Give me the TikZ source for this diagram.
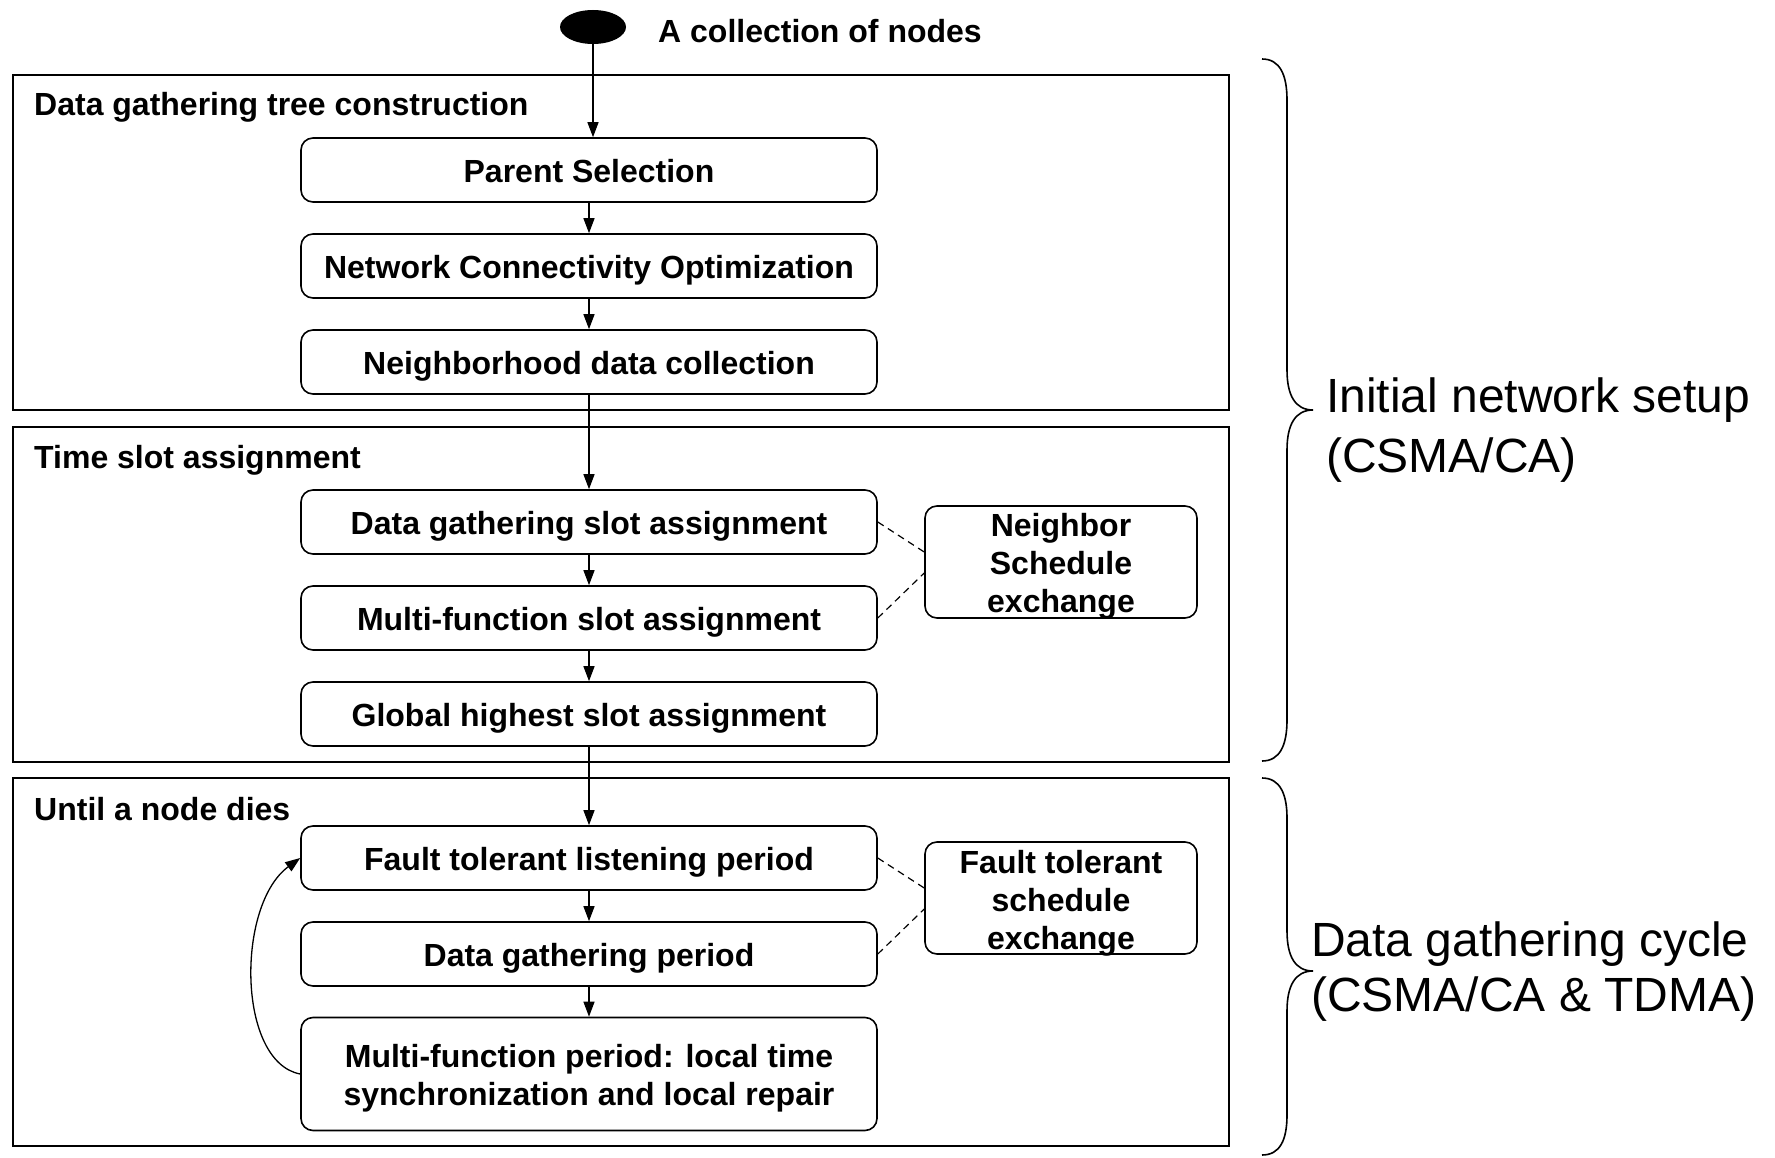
\documentclass[tikz,border=0pt]{standalone}
\usepackage{fontspec}
\setmainfont{Liberation Sans}
\usetikzlibrary{arrows.meta,shapes.geometric}

\newcommand\stagefont{\fontsize{32}{38}\selectfont\bfseries}
\newcommand\bracefont{\fontsize{48}{60}\selectfont}
\newcommand\bracefonttight{\fontsize{48}{55.5}\selectfont}
% lowers the lines of a multi-line box a little
\newcommand\firstline{\rule{0pt}{31.5pt}}

\begin{document}
\begin{tikzpicture}[x=1pt,y=-1pt,
  frame/.style={draw, line width=1.8pt, inner sep=0pt},
  box/.style={draw, rounded corners=12pt, line width=1.6pt, minimum width=576pt,
    minimum height=64pt, align=center, font=\stagefont, inner sep=0pt},
  stage/.style={box, text height=25.5pt, text depth=0pt},
  sidebox/.style={box, minimum width=272pt, minimum height=112pt, inner ysep=-5pt},
  heading/.style={anchor=base west, font=\stagefont, inner sep=0pt},
  flow/.style={line width=1.3pt, -{Triangle[length=15pt,width=11pt]}},
  link/.style={line width=1.2pt, dash pattern=on 7pt off 5pt},
  brace/.style={line width=1.6pt},
  bracetext/.style={anchor=west, align=left, inner sep=0pt},
]
\useasboundingbox (0,0) rectangle (1775,1158);

% start marker
\node[ellipse, fill=black, minimum width=66pt, minimum height=34pt, inner sep=0pt] (start) at (593,27) {};
\node[heading] (startlbl) at (658,43) {A collection of nodes};

% phase frames
\node[frame, minimum width=1216pt, minimum height=335pt] (tree) at (621,242.5) {};
\node[frame, minimum width=1216pt, minimum height=335pt] (slots) at (621,594.5) {};
\node[frame, minimum width=1216pt, minimum height=368pt] (cycle) at (621,962) {};

\node[heading] (treelbl) at (34,116) {Data gathering tree construction};
\node[heading] (slotslbl) at (34,468) {Time slot assignment};
\node[heading] (cyclelbl) at (34,820) {Until a node dies};

% stages
\node[stage] (ps) at (589,170) {Parent Selection};
\node[stage] (nc) at (589,266) {Network Connectivity Optimization};
\node[stage] (nd) at (589,362) {Neighborhood data collection};
\node[stage] (dg) at (589,522) {Data gathering slot assignment};
\node[stage] (mf) at (589,618) {Multi-function slot assignment};
\node[stage] (gh) at (589,714) {Global highest slot assignment};
\node[stage] (ftl) at (589,858) {Fault tolerant listening period};
\node[stage] (dgp) at (589,954) {Data gathering period};
\node[box, minimum height=113pt] (mfp) at (589,1074) {\firstline Multi-function period: local time\\synchronization and local repair};

\node[sidebox] (nse) at (1061,562) {\firstline Neighbor\\Schedule\\exchange};
\node[sidebox] (fts) at (1061,898) {\rule{0pt}{33.5pt}Fault tolerant\\schedule\\exchange};

% flow
\draw[flow] (start.south) -- (start.south |- ps.north);
\draw[flow] (ps) -- (nc);
\draw[flow] (nc) -- (nd);
\draw[flow] (nd) -- (dg);
\draw[flow] (dg) -- (mf);
\draw[flow] (mf) -- (gh);
\draw[flow] (gh) -- (ftl);
\draw[flow] (ftl) -- (dgp);
\draw[flow] (dgp) -- (mfp);
\draw[flow] (mfp.west) .. controls (237,1062) and (236,905) .. (ftl.west);

% schedule exchange links
\draw[link] (dg.east) -- ([yshift=10pt]nse.west);
\draw[link] (mf.east) -- ([yshift=-11pt]nse.west);
\draw[link] (ftl.east) -- ([yshift=10pt]fts.west);
\draw[link] (dgp.east) -- ([yshift=-11pt]fts.west);

% braces
\draw[brace] (1262,59) .. controls (1280,59) and (1287,75) .. (1287,100) -- (1287,370)
  .. controls (1287,395) and (1295,410) .. (1313,410)
  .. controls (1295,410) and (1287,425) .. (1287,450) -- (1287,720)
  .. controls (1287,745) and (1280,761) .. (1262,761);
\draw[brace] (1262,778) .. controls (1280,778) and (1287,794) .. (1287,818) -- (1287,931)
  .. controls (1287,956) and (1295,971) .. (1313,971)
  .. controls (1295,971) and (1287,986) .. (1287,1011) -- (1287,1115)
  .. controls (1287,1140) and (1280,1155) .. (1262,1155);

\node[bracetext, font=\bracefont] (setuplbl) at (1326,430.5) {Initial network setup\\(CSMA/CA)};
\node[bracetext, font=\bracefonttight] (cyclelbl2) at (1311,971.5) {Data gathering cycle\\(CSMA/CA \& TDMA)};
\end{tikzpicture}
\end{document}
